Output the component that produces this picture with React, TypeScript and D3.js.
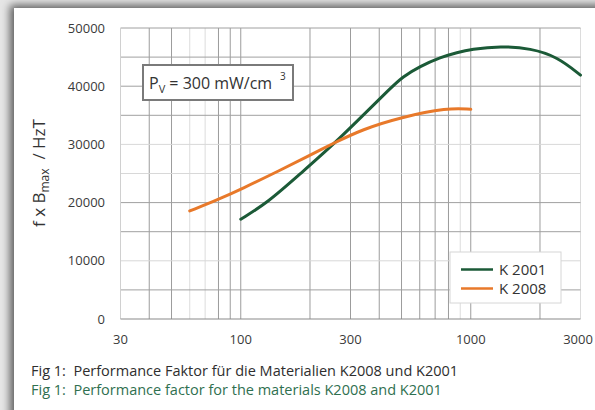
import React, { useEffect, useRef } from 'react';
import * as d3 from 'd3';

// K 2001 curve (frequency in kHz, f x Bmax in HzT)
const k2001Freq = [100, 131, 182, 253, 340, 449, 505, 600, 741, 874, 1000, 1349, 1823, 2382, 3000];
const k2001Value = [17150, 20000, 25000, 30000, 35000, 39700, 41600, 43400, 45000, 45800, 46350, 46900, 46500, 45050, 41900];

// K 2008 curve
const k2008Freq = [60, 80, 100, 149, 201, 250, 338, 496, 794, 1000];
const k2008Value = [18560, 20570, 22280, 25600, 28180, 30100, 32590, 34650, 36300, 36030];

const xTicks = [30, 100, 300, 1000, 3000];
const xGrid = [40, 50, 60, 70, 80, 90, 100, 200, 300, 400, 500, 600, 700, 800, 900, 1000, 2000, 3000];
const xGridLight = [60, 70, 900, 3000];
const yTicks = [0, 10000, 20000, 30000, 40000, 50000];
const yGrid = [5000, 10000, 15000, 20000, 25000, 30000, 35000, 40000, 45000, 50000];
const yGridLight = [10000, 25000, 30000];

const seriesNames = ['K 2001', 'K 2008'];
const seriesColors = ['#1b5a37', '#e8792a'];

const captions = [
  'Fig 1:  Performance Faktor für die Materialien K2008 und K2001',
  'Fig 1:  Performance factor for the materials K2008 and K2001',
];

const FONT = '"Open Sans", sans-serif';

export default function App() {
  const svgRef = useRef<SVGSVGElement>(null);

  useEffect(() => {
    if (!svgRef.current) return;
    const svg = d3.select(svgRef.current);
    svg.selectAll('*').remove();

    const width = 595;
    const height = 410;

    // 背景和卡片阴影
    const defs = svg.append('defs');
    const filter = defs.append('filter').attr('id', 'shadow')
      .attr('x', '-10%').attr('y', '-10%').attr('width', '130%').attr('height', '130%');
    filter.append('feDropShadow')
      .attr('dx', -4).attr('dy', -3).attr('stdDeviation', 4)
      .attr('flood-color', '#000').attr('flood-opacity', 0.6);

    svg.append('rect').attr('width', width).attr('height', height).attr('fill', '#e6e6e6');
    svg.append('rect')
      .attr('x', 14).attr('y', 8).attr('width', 640).attr('height', 440)
      .attr('fill', '#fff').attr('filter', 'url(#shadow)');

    // scales
    const x = d3.scaleLog().domain([30, 3000]).range([120.5, 580.5]);
    const y = d3.scaleLinear().domain([0, 50000]).range([319, 28]);

    // grid
    const grid = svg.append('g');
    grid.selectAll('line.v')
      .data(xGrid)
      .join('line')
      .attr('x1', d => x(d)).attr('x2', d => x(d))
      .attr('y1', y(50000)).attr('y2', y(0))
      .attr('stroke', d => xGridLight.includes(d) ? '#dcdcdc' : '#9c9c9c')
      .attr('stroke-width', 1);
    grid.selectAll('line.h')
      .data(yGrid)
      .join('line')
      .attr('x1', x(30)).attr('x2', x(3000))
      .attr('y1', d => y(d)).attr('y2', d => y(d))
      .attr('stroke', d => yGridLight.includes(d) ? '#d8d8d8' : '#a0a0a0')
      .attr('stroke-width', 1);
    // left edge + bottom axis
    grid.append('line')
      .attr('x1', x(30)).attr('x2', x(30)).attr('y1', y(50000)).attr('y2', y(0))
      .attr('stroke', '#d0d0d0');
    grid.append('line')
      .attr('x1', x(30)).attr('x2', x(3000)).attr('y1', y(0)).attr('y2', y(0))
      .attr('stroke', '#8a8a8a').attr('stroke-width', 1.2);

    // tick labels
    svg.append('g').selectAll('text')
      .data(yTicks)
      .join('text')
      .attr('x', 105).attr('y', d => y(d) + 4.5)
      .attr('text-anchor', 'end')
      .attr('font-family', FONT).attr('font-size', 13).attr('fill', '#3a3a3a')
      .text(d => String(d));
    svg.append('g').selectAll('text')
      .data(xTicks)
      .join('text')
      .attr('x', d => Math.min(x(d), 578)).attr('y', 344)
      .attr('text-anchor', 'middle')
      .attr('font-family', FONT).attr('font-size', 13).attr('fill', '#3a3a3a')
      .text(d => String(d));

    // y label
    const yl = svg.append('text')
      .attr('transform', 'translate(45,173) rotate(-90)')
      .attr('text-anchor', 'middle')
      .style('white-space', 'pre')
      .attr('font-family', FONT).attr('font-size', 17).attr('fill', '#333');
    yl.append('tspan').text('f x B');
    yl.append('tspan').attr('font-size', 12).attr('dy', 4).text('max');
    yl.append('tspan').attr('dy', -4).text('  / HzT');

    // curves
    const line = d3.line<[number, number]>()
      .x(d => x(d[0]))
      .y(d => y(d[1]))
      .curve(d3.curveBasis);
    const series = [
      k2001Freq.map((f, i) => [f, k2001Value[i]] as [number, number]),
      k2008Freq.map((f, i) => [f, k2008Value[i]] as [number, number]),
    ];
    svg.append('g').selectAll('path')
      .data(series)
      .join('path')
      .attr('d', d => line(d))
      .attr('fill', 'none')
      .attr('stroke', (_, i) => seriesColors[i])
      .attr('stroke-width', 3)
      .attr('stroke-linecap', 'round');

    // Pv box
    svg.append('rect')
      .attr('x', 143).attr('y', 65).attr('width', 150).attr('height', 35)
      .attr('fill', '#fff').attr('stroke', '#7a7a7a').attr('stroke-width', 2);
    const pv = svg.append('text')
      .attr('x', 149).attr('y', 89)
      .attr('font-family', FONT).attr('font-size', 16).attr('fill', '#333');
    pv.append('tspan').text('P');
    pv.append('tspan').attr('font-size', 11).attr('dy', 4).text('V');
    pv.append('tspan').attr('dy', -4).text(' = 300 mW/cm');
    svg.append('text')
      .attr('x', 280).attr('y', 80)
      .attr('font-family', FONT).attr('font-size', 10).attr('fill', '#333')
      .text('3');

    // legend
    const legend = svg.append('g');
    legend.append('rect')
      .attr('x', 450).attr('y', 252).attr('width', 111).attr('height', 51)
      .attr('fill', '#fff').attr('stroke', '#d6d6d6');
    const items = legend.selectAll('g')
      .data(seriesNames)
      .join('g')
      .attr('transform', (_, i) => `translate(0,${269.5 + i * 19})`);
    items.append('line')
      .attr('x1', 461).attr('x2', 493).attr('y1', 0).attr('y2', 0)
      .attr('stroke', (_, i) => seriesColors[i]).attr('stroke-width', 2.5);
    items.append('text')
      .attr('x', 499).attr('y', 5.5)
      .attr('font-family', FONT).attr('font-size', 15).attr('fill', '#333')
      .text(d => d);

    // captions
    svg.append('g').selectAll('text')
      .data(captions)
      .join('text')
      .attr('x', 31).attr('y', (_, i) => 376 + i * 18.5)
      .style('white-space', 'pre')
      .attr('font-family', FONT).attr('font-size', 14.5)
      .attr('fill', (_, i) => i === 0 ? '#2e2e2e' : '#2f7050')
      .text(d => d);
  }, []);

  return (
    <div style={{ position: 'fixed', left: 0, top: 0 }}>
      <svg ref={svgRef} width={595} height={410} style={{ display: 'block' }} />
    </div>
  );
}
